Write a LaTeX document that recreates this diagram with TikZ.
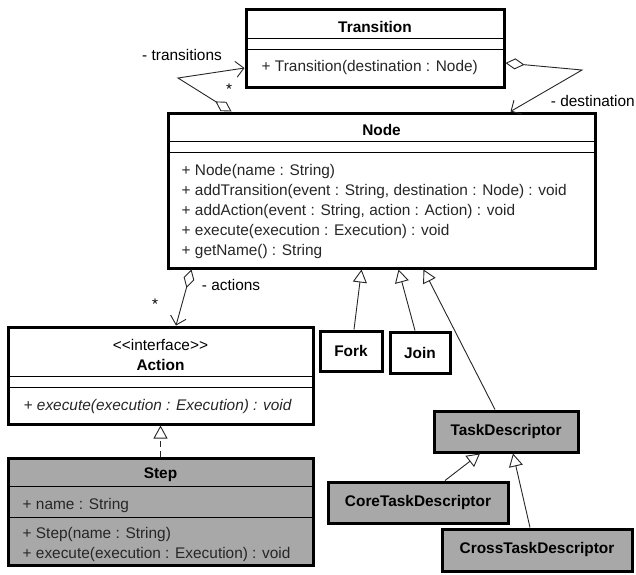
\documentclass[tikz,border=0pt]{standalone}
\usepackage{fontspec}
\setmainfont{Liberation Sans}
\usetikzlibrary{arrows.meta}
\definecolor{classgray}{RGB}{168,168,168}

\begin{document}
\begin{tikzpicture}[x=1pt,y=-1pt,font=\fontsize{15.4}{18}\selectfont,
        class box/.style = {draw,line width=3pt,inner sep=0pt},
        shaded/.style = {fill=classgray},
        title/.style = {font=\fontsize{15.4}{18}\selectfont\bfseries},
        member/.style = {anchor=west,inner sep=0pt,text=black!85},
        sep line/.style = {line width=0.8pt},
        link/.style = {line width=0.9pt,draw=black!85},
        extends/.style = {link,-{Triangle[open,length=13pt,width=14pt]}},
        aggregation/.style = {link,{Diamond[open,length=19pt,width=11pt]}-{Straight Barb[length=8pt,width=16pt]}}]
        \useasboundingbox (0,0) rectangle (636,574);
        % class boxes
        \node[class box,minimum width=258pt,minimum height=78pt] (transition) at (375,48) {};
        \node[class box,minimum width=427pt,minimum height=155pt] (node) at (381.5,190.5) {};
        \node[class box,minimum width=305pt,minimum height=97pt] (action) at (160.5,375.5) {};
        \node[class box,shaded,minimum width=305pt,minimum height=107pt] (step) at (160.5,511.5) {};
        \node[class box,title,minimum width=62pt,minimum height=40pt] (fork) at (351,351) {Fork};
        \node[class box,title,minimum width=60pt,minimum height=41pt] (join) at (420,352.5) {Join};
        \node[class box,shaded,title,minimum width=144pt,minimum height=41pt] (task) at (506,431.5) {TaskDescriptor};
        \node[class box,shaded,title,minimum width=180pt,minimum height=41pt] (core) at (418,502.5) {CoreTaskDescriptor};
        \node[class box,shaded,title,minimum width=190pt,minimum height=42pt] (cross) at (537,550) {CrossTaskDescriptor};
        \foreach \cls/\dy in {transition/31,transition/42,node/30,node/41,action/51,action/62,step/30,step/61}
            \draw[sep line] ([yshift=-\dy pt]\cls.north west) -- ([yshift=-\dy pt]\cls.north east);
        % titles and members
        \node[title] (transition title) at (375,27) {Transition};
        \node[member] (transition op) at (261.5,68) {+ Transition(destination : Node)};
        \node[title] (node title) at (381.5,130) {Node};
        \foreach \txt [count=\i] in {{+ Node(name : String)},{+ addTransition(event : String, destination : Node) : void},{+ addAction(event : String, action : Action) : void},{+ execute(execution : Execution) : void},{+ getName() : String}}
            \node[member] (node op \i) at (181.5,152+20*\i) {\txt};
        \node (action stereo) at (160.5,345) {{<}{<}interface{>}{>}};
        \node[title] (action title) at (160.5,365) {Action};
        \node[member,font=\fontsize{15.4}{18}\selectfont\itshape] (action op) at (23.5,407) {+ execute(execution : Execution) : void};
        \node[title] (step title) at (160.5,475) {Step};
        \node[member] (step attr) at (22.5,506) {+ name : String};
        \node[member] (step op 1) at (22.5,535) {+ Step(name : String)};
        \node[member] (step op 2) at (22.5,555) {+ execute(execution : Execution) : void};
        % associations
        \coordinate (trans bend) at (178,78);
        \coordinate (dest bend) at (582,70);
        \draw[aggregation] ([xshift=65pt]node.north west) -- (trans bend) -- ([yshift=-20pt]transition.west);
        \draw[aggregation] ([yshift=-15pt]transition.east) -- (dest bend) -- ([xshift=344pt]node.north west);
        \draw[aggregation] ([xshift=25pt]node.south west) -- ([xshift=15.5pt]action.north);
        \node (trans role) at (182,55) {- transitions};
        \node (trans mult) at (229,89) {*};
        \node[anchor=east,inner sep=0pt] (dest role) at (635,101) {- destination};
        \node (act role) at (231,285) {- actions};
        \node (act mult) at (155,304) {*};
        % generalizations
        \draw[extends] ([xshift=3pt]fork.north) -- ([xshift=195pt]node.south west);
        \draw[extends] ([xshift=-5pt]join.north) -- ([xshift=232pt]node.south west);
        \draw[extends] ([xshift=-11pt]task.north) -- ([xshift=257pt]node.south west);
        \draw[extends] ([xshift=27pt]core.north) -- ([xshift=-26pt]task.south);
        \draw[extends] ([xshift=-7pt]cross.north) -- ([xshift=7pt]task.south);
        \draw[extends,dash pattern=on 6pt off 4pt] (step.north) -- (action.south);
    \end{tikzpicture}
\end{document}
